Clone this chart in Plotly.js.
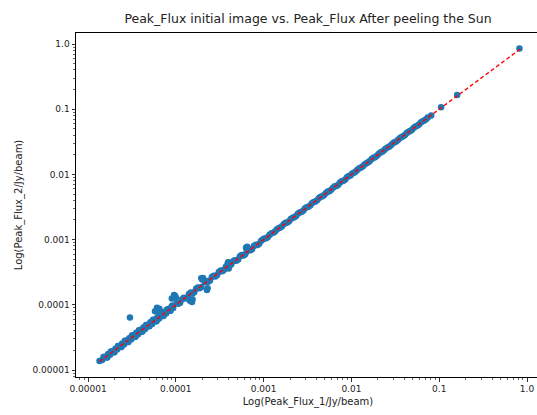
<!DOCTYPE html>
<html>
<head>
<meta charset="utf-8">
<script src="https://cdn.plot.ly/plotly-3.0.1.min.js"></script>
<style>
html,body{margin:0;padding:0;overflow:hidden;background:#fff;}
#chart{width:541px;height:415px;}
</style>
</head>
<body>
<div id="chart"></div>
<script>
// Peak flux of each source before (x) and after (y) peeling the Sun, Jy/beam
const peakFlux1 = [
  1.35e-5, 1.45e-5, 1.55e-5, 1.62e-5, 1.70e-5, 1.78e-5, 1.86e-5, 1.95e-5, 2.05e-5, 2.14e-5,
  2.24e-5, 2.34e-5, 2.45e-5, 2.57e-5, 2.69e-5, 2.82e-5, 2.95e-5, 3.00e-5, 3.09e-5, 3.24e-5,
  3.39e-5, 3.55e-5, 3.72e-5, 3.90e-5, 4.07e-5, 4.27e-5, 4.47e-5, 4.68e-5, 4.90e-5, 5.13e-5,
  5.37e-5, 5.62e-5, 5.89e-5, 6.10e-5, 6.50e-5, 6.17e-5, 6.46e-5, 6.76e-5, 7.08e-5, 7.41e-5,
  7.76e-5, 8.13e-5, 8.51e-5, 8.91e-5, 9.33e-5, 9.80e-5, 9.55e-5,
  1.02e-4, 1.12e-4, 1.23e-4, 1.35e-4, 1.48e-4, 1.53e-4, 1.62e-4, 1.78e-4, 1.95e-4, 2.04e-4,
  2.14e-4, 2.26e-4, 2.34e-4, 2.57e-4, 2.82e-4, 3.09e-4, 3.39e-4, 3.72e-4, 3.94e-4, 4.07e-4,
  4.47e-4, 4.90e-4, 5.37e-4, 5.89e-4, 6.46e-4, 6.50e-4, 7.08e-4, 7.76e-4, 8.51e-4, 9.33e-4,
  1.02e-3, 1.12e-3, 1.23e-3, 1.35e-3, 1.48e-3, 1.62e-3, 1.78e-3, 1.95e-3, 2.14e-3, 2.34e-3,
  2.57e-3, 2.82e-3, 3.09e-3, 3.39e-3, 3.72e-3, 4.07e-3, 4.47e-3, 4.90e-3, 5.37e-3, 5.89e-3,
  6.46e-3, 7.08e-3, 7.76e-3, 8.51e-3, 9.33e-3,
  1.02e-2, 1.12e-2, 1.23e-2, 1.35e-2, 1.48e-2, 1.62e-2, 1.78e-2, 1.95e-2, 2.14e-2, 2.34e-2,
  2.57e-2, 2.82e-2, 3.09e-2, 3.39e-2, 3.72e-2, 4.07e-2, 4.47e-2, 4.90e-2, 5.37e-2, 5.89e-2,
  6.46e-2, 7.08e-2, 8.10e-2, 1.05e-1, 1.60e-1, 8.20e-1
];
const peakFlux2 = [
  1.38e-5, 1.42e-5, 1.60e-5, 1.55e-5, 1.76e-5, 1.72e-5, 1.92e-5, 1.88e-5, 2.12e-5, 2.06e-5,
  2.33e-5, 2.25e-5, 2.55e-5, 2.46e-5, 2.80e-5, 2.70e-5, 3.08e-5, 6.40e-5, 2.95e-5, 3.40e-5,
  3.22e-5, 3.72e-5, 3.55e-5, 4.10e-5, 3.88e-5, 4.48e-5, 4.25e-5, 4.92e-5, 4.68e-5, 5.40e-5,
  5.10e-5, 5.90e-5, 5.62e-5, 9.00e-5, 8.70e-5, 6.45e-5, 6.15e-5, 7.10e-5, 6.75e-5, 7.80e-5,
  7.38e-5, 8.55e-5, 8.10e-5, 9.35e-5, 8.90e-5, 1.38e-4, 1.42e-4,
  1.06e-4, 1.08e-4, 1.28e-4, 1.30e-4, 1.54e-4, 1.10e-4, 1.56e-4, 1.85e-4, 1.88e-4, 2.58e-4,
  2.22e-4, 1.69e-4, 2.26e-4, 2.66e-4, 2.72e-4, 3.20e-4, 3.27e-4, 3.85e-4, 4.50e-4, 3.93e-4,
  4.62e-4, 4.73e-4, 5.55e-4, 5.69e-4, 6.65e-4, 7.80e-4, 6.86e-4, 7.98e-4, 8.26e-4, 9.55e-4,
  1.04e-3, 1.10e-3, 1.25e-3, 1.33e-3, 1.50e-3, 1.60e-3, 1.81e-3, 1.92e-3, 2.17e-3, 2.31e-3,
  2.61e-3, 2.78e-3, 3.14e-3, 3.34e-3, 3.78e-3, 4.01e-3, 4.54e-3, 4.83e-3, 5.45e-3, 5.80e-3,
  6.56e-3, 6.97e-3, 7.88e-3, 8.38e-3, 9.47e-3,
  1.03e-2, 1.11e-2, 1.24e-2, 1.34e-2, 1.49e-2, 1.61e-2, 1.80e-2, 1.93e-2, 2.16e-2, 2.32e-2,
  2.59e-2, 2.80e-2, 3.12e-2, 3.36e-2, 3.75e-2, 4.03e-2, 4.51e-2, 4.86e-2, 5.42e-2, 5.84e-2,
  6.52e-2, 7.02e-2, 8.00e-2, 1.07e-1, 1.65e-1, 8.50e-1
];
const peakFlux1More = [
  1.50e-5, 1.66e-5, 1.82e-5, 2.00e-5, 2.19e-5, 2.40e-5, 2.63e-5, 2.88e-5, 3.16e-5, 3.47e-5,
  3.80e-5, 4.17e-5, 4.57e-5, 5.01e-5, 5.50e-5, 6.03e-5, 6.61e-5, 7.24e-5, 7.94e-5, 8.71e-5,
  9.12e-5, 5.80e-5, 6.30e-5, 9.00e-5, 1.00e-4, 1.45e-4, 1.55e-4, 2.00e-4, 1.95e-4, 2.30e-4,
  3.90e-4, 4.00e-4, 6.30e-4,
  1.07e-4, 1.17e-4, 1.29e-4, 1.41e-4, 1.55e-4, 1.70e-4, 1.86e-4, 2.24e-4, 2.45e-4, 2.69e-4,
  2.95e-4, 3.24e-4, 3.55e-4, 3.89e-4, 4.27e-4, 4.68e-4, 5.13e-4, 5.62e-4, 6.17e-4, 6.76e-4,
  7.41e-4, 8.13e-4, 8.91e-4, 9.77e-4,
  1.07e-3, 1.17e-3, 1.29e-3, 1.41e-3, 1.55e-3, 1.70e-3, 1.86e-3, 2.04e-3, 2.24e-3, 2.45e-3,
  2.69e-3, 2.95e-3, 3.24e-3, 3.55e-3, 3.89e-3, 4.27e-3, 4.68e-3, 5.13e-3, 5.62e-3, 6.17e-3,
  6.76e-3, 7.41e-3, 8.13e-3, 8.91e-3, 9.77e-3,
  1.07e-2, 1.17e-2, 1.29e-2, 1.41e-2, 1.55e-2, 1.70e-2, 1.86e-2, 2.04e-2, 2.24e-2, 2.45e-2,
  2.69e-2, 2.95e-2, 3.24e-2, 3.55e-2, 3.89e-2, 4.27e-2, 4.68e-2, 5.13e-2, 5.62e-2, 6.17e-2,
  6.76e-2, 7.41e-2
];
const peakFlux2More = [
  1.58e-5, 1.56e-5, 1.93e-5, 1.88e-5, 2.33e-5, 2.25e-5, 2.80e-5, 2.70e-5, 3.38e-5, 3.25e-5,
  4.06e-5, 3.90e-5, 4.90e-5, 4.68e-5, 5.90e-5, 5.62e-5, 7.10e-5, 6.75e-5, 8.50e-5, 8.12e-5,
  9.80e-5, 8.00e-5, 8.30e-5, 1.25e-4, 1.30e-4, 1.15e-4, 1.22e-4, 2.45e-4, 2.55e-4, 1.80e-4,
  4.30e-4, 3.60e-4, 7.50e-4,
  1.04e-4, 1.21e-4, 1.25e-4, 1.46e-4, 1.50e-4, 1.76e-4, 1.80e-4, 2.31e-4, 2.37e-4, 2.78e-4,
  2.86e-4, 3.35e-4, 3.44e-4, 4.02e-4, 4.14e-4, 4.84e-4, 4.97e-4, 5.81e-4, 5.98e-4, 6.97e-4,
  7.19e-4, 8.37e-4, 8.65e-4, 1.00e-3,
  1.05e-3, 1.19e-3, 1.27e-3, 1.43e-3, 1.53e-3, 1.73e-3, 1.83e-3, 2.07e-3, 2.21e-3, 2.49e-3,
  2.65e-3, 2.99e-3, 3.19e-3, 3.60e-3, 3.83e-3, 4.33e-3, 4.61e-3, 5.21e-3, 5.54e-3, 6.26e-3,
  6.66e-3, 7.52e-3, 8.01e-3, 9.04e-3, 9.62e-3,
  1.06e-2, 1.18e-2, 1.28e-2, 1.42e-2, 1.54e-2, 1.72e-2, 1.84e-2, 2.06e-2, 2.22e-2, 2.47e-2,
  2.66e-2, 2.98e-2, 3.21e-2, 3.58e-2, 3.85e-2, 4.31e-2, 4.63e-2, 5.18e-2, 5.57e-2, 6.23e-2,
  6.70e-2, 7.48e-2
];
// one-to-one reference line (min to max)
const refLineX = [1.35e-5, 0.84];
const refLineY = [1.35e-5, 0.84];

const tickValues = [1e-5, 1e-4, 1e-3, 1e-2, 1e-1, 1];
const tickLabels = ["0.00001", "0.0001", "0.001", "0.01", "0.1", "1.0"];
const minorTickValues = [
  8e-6, 9e-6,
  2e-5, 3e-5, 4e-5, 5e-5, 6e-5, 7e-5, 8e-5, 9e-5,
  2e-4, 3e-4, 4e-4, 5e-4, 6e-4, 7e-4, 8e-4, 9e-4,
  2e-3, 3e-3, 4e-3, 5e-3, 6e-3, 7e-3, 8e-3, 9e-3,
  2e-2, 3e-2, 4e-2, 5e-2, 6e-2, 7e-2, 8e-2, 9e-2,
  2e-1, 3e-1, 4e-1, 5e-1, 6e-1, 7e-1, 8e-1, 9e-1
];

const FONT = "DejaVu Sans, Liberation Sans, sans-serif";

const traces = [
  {
    x: peakFlux1.concat(peakFlux1More), y: peakFlux2.concat(peakFlux2More),
    type: "scatter", mode: "markers",
    marker: {color: "#1f77b4", size: 6.5, line: {width: 0}},
    hoverinfo: "skip", showlegend: false
  },
  {
    x: refLineX, y: refLineY, type: "scatter", mode: "lines",
    line: {color: "#ff0000", width: 1.3, dash: "4px,2.5px"},
    hoverinfo: "skip", showlegend: false
  }
];

function axisBase(title, standoff) {
  return {
    type: "log",
    tickmode: "array", tickvals: tickValues, ticktext: tickLabels,
    ticks: "outside", ticklen: 3.5, tickwidth: 0.8, tickcolor: "#000",
    minor: {tickmode: "array", tickvals: minorTickValues, ticks: "outside", ticklen: 2, tickwidth: 0.6, tickcolor: "#000", showgrid: false},
    showline: true, linecolor: "#000", linewidth: 1, mirror: true,
    showgrid: false, zeroline: false,
    tickfont: {family: FONT, size: 9, color: "#222"},
    title: {text: title, font: {family: FONT, size: 10, color: "#222"}, standoff: standoff}
  };
}

const xaxis = axisBase("Log(Peak_Flux_1/Jy/beam)", 4);
xaxis.range = [-5.137, 0.148];
const yaxis = axisBase("Log(Peak_Flux_2/Jy/beam)", 7);
yaxis.range = [-5.107, 0.169];

const layout = {
  width: 541, height: 415,
  margin: {l: 76, r: 1, t: 33, b: 38, pad: 0},
  paper_bgcolor: "#fff", plot_bgcolor: "#fff",
  title: {
    text: "Peak_Flux initial image vs. Peak_Flux After peeling the Sun",
    font: {family: FONT, size: 12.5, color: "#222"},
    x: 0.5, xref: "paper", xanchor: "center",
    y: 1 - 19 / 415, yref: "container", yanchor: "middle"
  },
  xaxis: xaxis, yaxis: yaxis,
  showlegend: false
};

Plotly.newPlot("chart", traces, layout, {staticPlot: true, displayModeBar: false});
</script>
</body>
</html>
